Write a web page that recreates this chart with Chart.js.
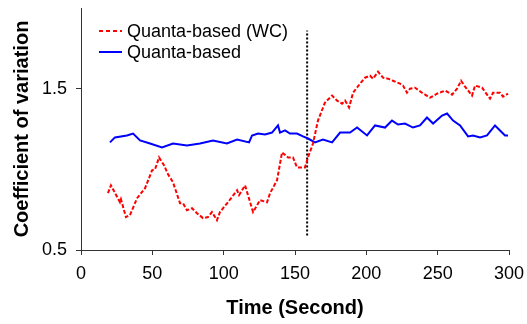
<!DOCTYPE html>
<html>
<head>
<meta charset="utf-8">
<script src="https://cdn.jsdelivr.net/npm/chart.js@4/dist/chart.umd.min.js"></script>
<style>
  html, body { margin: 0; padding: 0; background: #fff; }
  #wrap { width: 527px; height: 324px; }
</style>
</head>
<body>
<div id="wrap"><canvas id="chart"></canvas></div>
<script>
// series (time in seconds, coefficient of variation)
const redTime = [18.9, 21.0, 27.3, 28.0, 31.5, 34.3, 39.3, 44.9, 49.8, 51.9, 54.7, 58.2, 61.0, 64.5, 69.4, 71.5, 74.3, 77.8, 81.3, 85.5, 89.0, 91.8, 95.3, 97.4, 103.0, 109.4, 110.8, 115.0, 120.6, 125.5, 130.4, 132.5, 137.4, 140.9, 145.1, 148.6, 151.4, 157.0, 159.1, 162.6, 166.1, 171.0, 176.0, 179.5, 183.0, 185.1, 187.9, 190.7, 195.6, 199.1, 202.6, 204.7, 208.2, 211.7, 215.2, 218.7, 223.6, 225.7, 228.5, 230.6, 234.1, 239.0, 244.7, 249.6, 255.2, 260.1, 263.6, 266.4, 269.2, 274.1, 276.2, 281.1, 286.7, 288.8, 293.7, 295.8, 299.3];
const redCov = [0.852, 0.901, 0.796, 0.815, 0.704, 0.716, 0.821, 0.883, 0.994, 1.000, 1.074, 1.025, 0.969, 0.920, 0.790, 0.790, 0.747, 0.759, 0.728, 0.698, 0.704, 0.735, 0.685, 0.735, 0.796, 0.870, 0.840, 0.901, 0.735, 0.809, 0.796, 0.852, 0.932, 1.105, 1.074, 1.074, 1.012, 1.012, 1.074, 1.160, 1.302, 1.414, 1.457, 1.426, 1.407, 1.426, 1.383, 1.475, 1.531, 1.568, 1.580, 1.562, 1.605, 1.568, 1.562, 1.549, 1.531, 1.519, 1.475, 1.500, 1.506, 1.475, 1.444, 1.469, 1.488, 1.463, 1.500, 1.549, 1.512, 1.457, 1.519, 1.506, 1.438, 1.475, 1.475, 1.451, 1.469];

const blueTime = [20.3, 23.8, 32.2, 36.5, 41.4, 48.4, 56.8, 64.5, 74.3, 83.4, 92.5, 102.3, 109.4, 117.8, 119.9, 124.1, 129.0, 133.9, 138.1, 139.5, 143.0, 146.5, 151.4, 155.6, 159.1, 164.0, 169.6, 176.0, 181.6, 188.6, 193.5, 200.5, 206.1, 213.1, 218.0, 222.2, 227.1, 232.7, 237.6, 242.5, 246.8, 253.1, 256.6, 260.8, 265.7, 271.3, 274.8, 279.7, 284.6, 290.2, 293.7, 297.2, 299.3];
const blueCov = [1.167, 1.198, 1.210, 1.222, 1.179, 1.160, 1.136, 1.160, 1.148, 1.160, 1.179, 1.160, 1.185, 1.167, 1.210, 1.222, 1.216, 1.228, 1.272, 1.228, 1.241, 1.222, 1.222, 1.204, 1.191, 1.167, 1.185, 1.167, 1.228, 1.228, 1.259, 1.210, 1.272, 1.259, 1.302, 1.278, 1.284, 1.259, 1.272, 1.321, 1.284, 1.333, 1.346, 1.302, 1.272, 1.204, 1.210, 1.198, 1.210, 1.272, 1.241, 1.210, 1.210];

const markerTime = [158.5, 158.5];
const markerCov = [0.59, 1.86];

const seriesNames = ["Quanta-based (WC)", "Quanta-based"];
const xTicks = [0, 50, 100, 150, 200, 250, 300];
const yTicks = [0.5, 1.5];

const FONT = "'Liberation Sans', Arial, sans-serif";

function pairs(xs, ys) {
  return xs.map((x, i) => ({ x: x, y: ys[i] }));
}

// legend drawn inside the plot, top-left, like the original
const insideLegend = {
  id: "insideLegend",
  afterDraw(chart) {
    const ctx = chart.ctx;
    const rows = [
      { label: seriesNames[0], color: "#ff0000", dash: [4, 3], y: 31 },
      { label: seriesNames[1], color: "#0000ff", dash: [], y: 52 }
    ];
    ctx.save();
    ctx.font = "18px " + FONT;
    ctx.textBaseline = "middle";
    rows.forEach((r) => {
      ctx.strokeStyle = r.color;
      ctx.lineWidth = 2;
      ctx.setLineDash(r.dash);
      ctx.beginPath();
      ctx.moveTo(99, r.y);
      ctx.lineTo(122, r.y);
      ctx.stroke();
      ctx.setLineDash([]);
      ctx.fillStyle = "#000";
      ctx.fillText(r.label, 127, r.y + 1);
    });
    ctx.restore();
  }
};

new Chart(document.getElementById("chart"), {
  type: "line",
  data: {
    datasets: [
      {
        label: seriesNames[0],
        data: pairs(redTime, redCov),
        borderColor: "#ff0000",
        borderWidth: 2,
        borderDash: [4, 2],
        pointRadius: 0,
        tension: 0
      },
      {
        label: seriesNames[1],
        data: pairs(blueTime, blueCov),
        borderColor: "#0000ff",
        borderWidth: 2,
        pointRadius: 0,
        tension: 0
      },
      {
        label: "marker",
        data: pairs(markerTime, markerCov),
        borderColor: "#000",
        borderWidth: 2,
        borderDash: [2, 2],
        pointRadius: 0
      }
    ]
  },
  options: {
    responsive: true,
    maintainAspectRatio: false,
    animation: false,
    layout: { padding: { top: 8, right: 18, left: 0, bottom: 0 } },
    plugins: {
      legend: { display: false },
      tooltip: { enabled: false }
    },
    scales: {
      x: {
        type: "linear",
        min: 0,
        max: 300,
        afterBuildTicks: (scale) => { scale.ticks = xTicks.map((v) => ({ value: v })); },
        afterFit: (scale) => {
          scale.height = 74;
          scale.paddingLeft = 0;
          scale.paddingRight = 0;
        },
        grid: { display: true, drawOnChartArea: false, drawTicks: true, tickLength: 5, color: "#333" },
        border: { color: "#333", width: 1 },
        ticks: { color: "#000", font: { family: FONT, size: 18 }, padding: 8, maxRotation: 0 },
        title: {
          display: true,
          text: "Time (Second)",
          color: "#000",
          font: { family: FONT, size: 20, weight: "bold" },
          padding: { top: 0, bottom: 4 }
        }
      },
      y: {
        type: "linear",
        min: 0.5,
        max: 2.0,
        afterBuildTicks: (scale) => { scale.ticks = yTicks.map((v) => ({ value: v })); },
        afterFit: (scale) => {
          scale.width = 81;
          scale.paddingTop = 0;
          scale.paddingBottom = 0;
        },
        grid: { display: true, drawOnChartArea: false, drawTicks: true, tickLength: 5, color: "#333" },
        border: { color: "#333", width: 1 },
        ticks: { color: "#000", font: { family: FONT, size: 18 }, padding: 9, callback: (v) => v.toFixed(1) },
        title: {
          display: true,
          text: "Coefficient of variation",
          color: "#000",
          font: { family: FONT, size: 20, weight: "bold" },
          padding: { top: 10, bottom: 0 }
        }
      }
    }
  },
  plugins: [insideLegend]
});
</script>
</body>
</html>
